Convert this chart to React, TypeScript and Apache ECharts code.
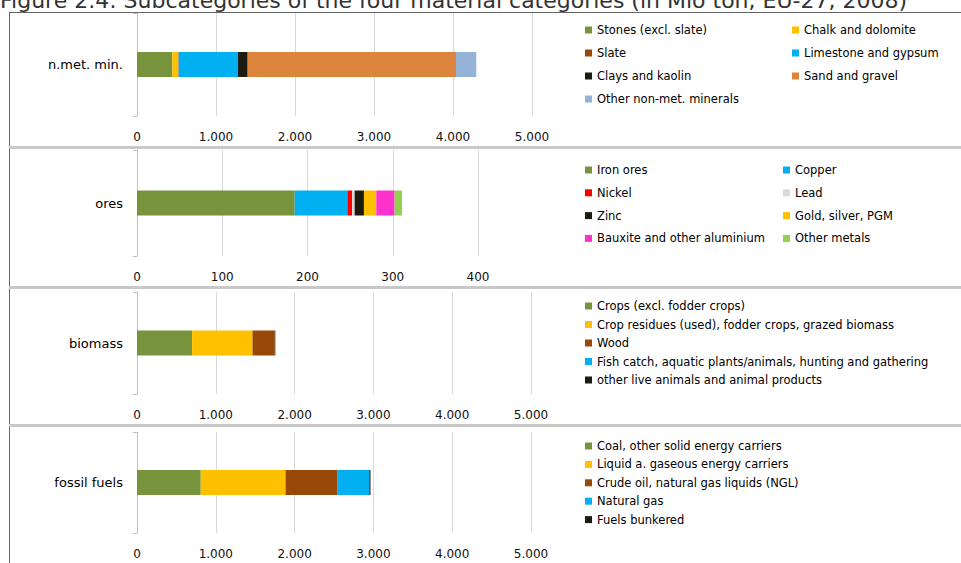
import React, { useEffect, useRef } from "react";
import * as echarts from "echarts";

const titleText = "Figure 2.4: Subcategories of the four material categories (in Mio ton, EU-27, 2008)";
const categories = ["n.met. min.", "ores", "biomass", "fossil fuels"];

const nmmNames = ["Stones (excl. slate)", "Chalk and dolomite", "Slate", "Limestone and gypsum", "Clays and kaolin", "Sand and gravel", "Other non-met. minerals"];
const nmmValues = [447, 76, 5, 751, 122, 2637, 257];
const nmmColors = ["#77933c", "#ffc000", "#984807", "#00b0f0", "#1d1b10", "#dd853d", "#95b3d7"];

const oresNames = ["Iron ores", "Copper", "Nickel", "Lead", "Zinc", "Gold, silver, PGM", "Bauxite and other aluminium", "Other metals"];
const oresValues = [185, 61.7, 5.5, 3.1, 10.9, 14.5, 21.5, 8.6];
const oresColors = ["#77933c", "#00b0f0", "#ff0000", "#d9d9d9", "#1d1b10", "#ffc000", "#ff33cc", "#92d050"];

const bioNames = ["Crops (excl. fodder crops)", "Crop residues (used), fodder crops, grazed biomass", "Wood", "Fish catch, aquatic plants/animals, hunting and gathering", "other live animals and animal products"];
const bioValues = [699, 767, 284, 6, 2];
const bioColors = ["#77933c", "#ffc000", "#984807", "#00b0f0", "#1d1b10"];

const fosNames = ["Coal, other solid energy carriers", "Liquid a. gaseous energy carriers", "Crude oil, natural gas liquids (NGL)", "Natural gas", "Fuels bunkered"];
const fosValues = [809, 1076, 661, 402, 15];
const fosColors = ["#77933c", "#ffc000", "#984807", "#00b0f0", "#1d1b10"];

const axisMax = [5000, 400, 5000, 5000];
const axisInterval = [1000, 100, 1000, 1000];

const FONT = "DejaVu Sans";

function fmt(v: number): string {
  const s = Math.round(v).toString();
  return s.replace(/\B(?=(\d{3})+(?!\d))/g, ".");
}

export default function App() {
  const ref = useRef<HTMLDivElement>(null);
  useEffect(() => {
    if (!ref.current) return;
    const chart = echarts.init(ref.current, undefined, { renderer: "svg" });

    const panels = [
      { names: nmmNames, values: nmmValues, colors: nmmColors },
      { names: oresNames, values: oresValues, colors: oresColors },
      { names: bioNames, values: bioValues, colors: bioColors },
      { names: fosNames, values: fosValues, colors: fosColors },
    ];
    const grids = [
      { left: 137, top: 13, width: 395, height: 103 },
      { left: 137, top: 150, width: 341, height: 106 },
      { left: 137, top: 292, width: 394, height: 102 },
      { left: 137, top: 432, width: 394, height: 101 },
    ];

    const series: any[] = [];
    panels.forEach((p, pi) => {
      p.names.forEach((n, i) => {
        series.push({
          type: "bar",
          name: n,
          xAxisIndex: pi,
          yAxisIndex: pi,
          stack: "s" + pi,
          barWidth: 25,
          data: [p.values[i]],
          itemStyle: { color: p.colors[i] },
          emphasis: { disabled: true },
        });
      });
    });

    const legendBase = {
      orient: "vertical",
      icon: "rect",
      itemWidth: 7,
      itemHeight: 7,
      padding: 0,
      selectedMode: false,
      textStyle: { fontFamily: FONT, fontSize: 11.5, color: "#000", lineHeight: 14 },
    };
    const legends: any[] = [
      { ...legendBase, left: 585, top: 23, itemGap: 9, data: [nmmNames[0], nmmNames[2], nmmNames[4], nmmNames[6]] },
      { ...legendBase, left: 792, top: 23, itemGap: 9, data: [nmmNames[1], nmmNames[3], nmmNames[5]] },
      { ...legendBase, left: 585, top: 163, itemGap: 8.8, data: [oresNames[0], oresNames[2], oresNames[4], oresNames[6]] },
      { ...legendBase, left: 783, top: 163, itemGap: 8.8, data: [oresNames[1], oresNames[3], oresNames[5], oresNames[7]] },
      { ...legendBase, left: 585, top: 299, itemGap: 4.5, data: bioNames },
      { ...legendBase, left: 585, top: 439, itemGap: 4.4, data: fosNames },
    ];

    const option: any = {
      animation: false,
      grid: grids,
      xAxis: grids.map((g, i) => ({
        type: "value",
        gridIndex: i,
        min: 0,
        max: axisMax[i],
        interval: axisInterval[i],
        axisLine: { show: false },
        axisTick: { show: false },
        splitLine: { show: true, lineStyle: { color: "#d9d9d9", width: 1 } },
        axisLabel: { fontFamily: FONT, fontSize: 12, color: "#111", margin: 15, formatter: (v: number) => fmt(v) },
      })),
      yAxis: grids.map((g, i) => ({
        type: "category",
        gridIndex: i,
        data: [categories[i]],
        axisLine: { show: true, lineStyle: { color: "#bfbfbf" } },
        axisTick: { show: true, length: 4, lineStyle: { color: "#bfbfbf" } },
        axisLabel: { fontFamily: FONT, fontSize: 13, color: "#000", margin: 14 },
      })),
      legend: legends,
      series,
      graphic: [
        {
          type: "text",
          left: 0,
          top: -11,
          style: { text: titleText, fontFamily: FONT, fontSize: 22, fill: "#333" },
        },
        { type: "line", shape: { x1: 9, y1: 12.5, x2: 961, y2: 12.5 }, style: { stroke: "#666", lineWidth: 1 } },
        { type: "line", shape: { x1: 9.5, y1: 12, x2: 9.5, y2: 563 }, style: { stroke: "#666", lineWidth: 1 } },
        { type: "rect", shape: { x: 9, y: 146, width: 952, height: 3 }, style: { fill: "#c8c8c8" } },
        { type: "rect", shape: { x: 9, y: 286, width: 952, height: 3 }, style: { fill: "#c8c8c8" } },
        { type: "rect", shape: { x: 9, y: 424, width: 952, height: 3 }, style: { fill: "#c8c8c8" } },
      ],
    };
    chart.setOption(option);
    return () => chart.dispose();
  }, []);
  return (
    <div
      ref={ref}
      style={{ position: "fixed", left: 0, top: 0, width: 961, height: 563, background: "#fff" }}
    />
  );
}
